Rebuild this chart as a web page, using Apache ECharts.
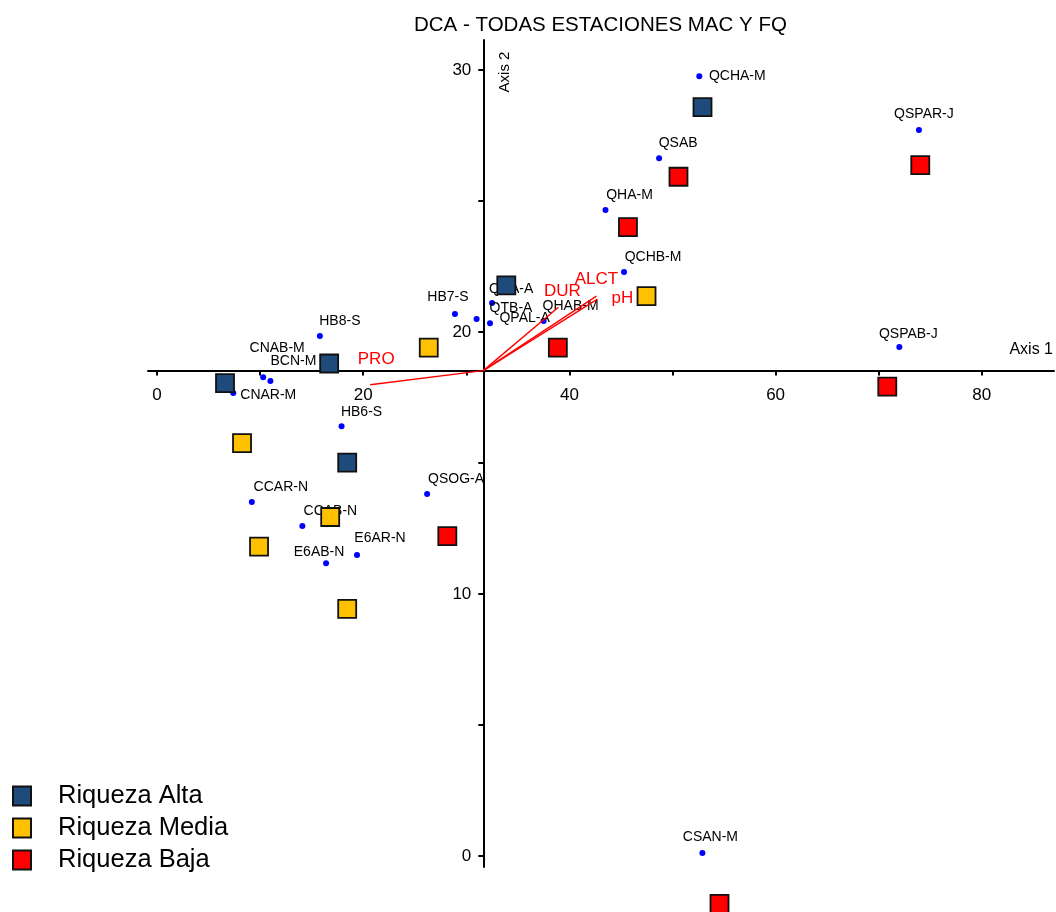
<!DOCTYPE html>
<html>
<head>
<meta charset="utf-8">
<title>DCA - TODAS ESTACIONES MAC Y FQ</title>
<script src="https://cdn.jsdelivr.net/npm/echarts@6/dist/echarts.min.js"></script>
<style>
html, body { margin: 0; padding: 0; background: #fff; }
#chart { width: 1056px; height: 912px; }
</style>
</head>
<body>
<div id="chart"></div>
<script>
// estaciones (puntos azules)
var siteNames = ['QCHA-M', 'QSPAR-J', 'QSAB', 'QHA-M', 'QCHB-M', 'QHA-A', 'QTB-A', 'QPAL-A', 'QHAB-M', 'HB7-S',
    'HB8-S', 'CNAB-M', 'BCN-M', 'CNAR-M', 'QSPAB-J', 'HB6-S', 'CCAR-N', 'CCAB-N', 'QSOG-A', 'E6AR-N', 'E6AB-N', 'CSAN-M'];
var siteX = [52.6, 73.9, 48.7, 43.5, 45.3, 32.5, 32.3, 31.0, 37.5, 28.9,
    15.8, 10.3, 11.0, 7.4, 72.0, 17.9, 9.2, 14.1, 26.2, 19.4, 16.4, 52.9];
var siteY = [29.77, 27.71, 26.64, 24.66, 22.29, 21.11, 20.34, 20.50, 20.42, 20.69,
    19.85, 18.28, 18.13, 17.67, 19.43, 16.41, 13.51, 12.60, 13.82, 11.49, 11.18, 0.11];

// riqueza
var altaX = [52.91, 33.88, 16.70, 6.60, 18.45];
var altaY = [28.59, 21.78, 18.80, 18.05, 15.02];
var mediaX = [47.48, 26.36, 8.25, 16.80, 9.90, 18.45];
var mediaY = [21.37, 19.41, 15.76, 12.94, 11.81, 9.43];
var bajaX = [74.03, 50.58, 45.68, 38.88, 70.83, 28.16, 54.56];
var bajaY = [26.37, 25.93, 24.01, 19.41, 17.92, 12.21, -1.83];

// vectores ambientales
var vecNames = ['PRO', 'DUR', 'ALCT', 'pH'];
var vecX = [20.68, 38.93, 42.62, 42.72];
var vecY = [17.99, 20.95, 21.37, 21.26];
var originX = 31.65;
var originY = 18.53;

// ejes
var xTicks = [0, 10, 20, 30, 40, 50, 60, 70, 80];
var xLabels = [0, 20, 40, 60, 80];
var yTicks = [0, 5, 10, 15, 20, 25, 30];
var yLabels = [0, 10, 20, 30];

// desplazamiento de etiquetas (estilo)
var labelShift = {
    'QCHA-M': [38, 15], 'QSPAR-J': [5, -1], 'QSAB': [19, 0], 'QHA-M': [24, 0], 'QCHB-M': [29, 0],
    'QHA-A': [19, 1], 'QTB-A': [21, 0], 'QPAL-A': [48, 14], 'QHAB-M': [27, 0], 'HB7-S': [-7, -2],
    'HB8-S': [20, 0], 'CNAB-M': [14, -14], 'BCN-M': [23, -5], 'CNAR-M': [35, 17], 'QSPAB-J': [9, 2],
    'HB6-S': [20, 1], 'CCAR-N': [29, 0], 'CCAB-N': [28, 0], 'QSOG-A': [29, 0], 'E6AR-N': [23, -2],
    'E6AB-N': [-7, 4], 'CSAN-M': [8, -1]
};
var vecShift = { 'PRO': [6, -17], 'DUR': [4, -7], 'ALCT': [0, -8], 'pH': [25, 8] };

var font = "'Liberation Sans', Arial, sans-serif";
var gridLeft = 148, gridTop = 40, gridWidth = 906, gridHeight = 827;

function pairs(xs, ys) {
    return xs.map(function(x, i) { return [x, ys[i]]; });
}

function squares(name, color, xs, ys) {
    return {
        name: name,
        type: 'scatter',
        symbol: 'rect',
        symbolSize: 18,
        clip: false,
        z: 5,
        itemStyle: { color: color, borderColor: '#111', borderWidth: 1.8, opacity: 1 },
        data: pairs(xs, ys)
    };
}

var siteData = siteNames.map(function(n, i) {
    var s = labelShift[n] || [0, 0];
    return { name: n, value: [siteX[i], siteY[i]], label: { offset: s } };
});

var vecSeries = vecNames.map(function(n, i) {
    return {
        name: n,
        type: 'line',
        z: 4,
        symbol: 'circle',
        symbolSize: 0,
        showSymbol: true,
        silent: true,
        lineStyle: { color: '#ff0000', width: 1.4 },
        itemStyle: { color: '#ff0000' },
        data: [
            { value: [originX, originY], label: { show: false } },
            { value: [vecX[i], vecY[i]], label: {
                show: true, position: 'top', distance: 0, offset: vecShift[n],
                formatter: n, color: '#ff0000', fontSize: 17, fontFamily: font
            } }
        ]
    };
});

var option = {
    animation: false,
    title: {
        text: 'DCA - TODAS ESTACIONES MAC Y FQ',
        left: 409,
        top: 10,
        textStyle: { fontSize: 20.5, fontWeight: 'normal', color: '#000', fontFamily: font }
    },
    legend: {
        data: ['Riqueza Alta', 'Riqueza Media', 'Riqueza Baja'],
        orient: 'vertical',
        left: 12,
        top: 783,
        padding: 0,
        icon: 'rect',
        itemWidth: 18,
        itemHeight: 19,
        itemGap: 6,
        textStyle: { fontSize: 25.5, color: '#000', fontFamily: font, padding: [0, 0, 0, 22] }
    },
    grid: {
        left: gridLeft, top: gridTop, width: gridWidth, height: gridHeight,
        containLabel: false, outerBoundsMode: 'none'
    },
    xAxis: {
        type: 'value',
        min: -0.87,
        max: 87.0,
        axisLine: { onZero: false, lineStyle: { color: '#000', width: 2 } },
        axisTick: { show: true, length: 5, customValues: xTicks, lineStyle: { color: '#000', width: 2 } },
        axisLabel: { customValues: xLabels, margin: 16, fontSize: 17, color: '#000', fontFamily: font },
        splitLine: { show: false }
    },
    yAxis: {
        type: 'value',
        min: -0.42,
        max: 31.15,
        axisLine: { onZero: false, lineStyle: { color: '#000', width: 2 } },
        axisTick: { show: true, length: 5, customValues: yTicks, lineStyle: { color: '#000', width: 2 } },
        axisLabel: { customValues: yLabels, margin: 12, fontSize: 17, color: '#000', fontFamily: font },
        splitLine: { show: false }
    },
    graphic: [
        { type: 'text', right: 3, top: 342, style: { text: 'Axis 1', fill: '#000', font: '16px ' + font } },
        { type: 'text', x: 505, y: 72, rotation: Math.PI / 2,
          style: { text: 'Axis 2', fill: '#000', font: '15px ' + font, align: 'center', verticalAlign: 'middle' } }
    ],
    series: [{
        name: 'Estaciones',
        type: 'scatter',
        symbolSize: 6,
        z: 3,
        itemStyle: { color: '#0000ff', opacity: 1 },
        label: {
            show: true, position: 'top', distance: 5, formatter: '{b}',
            fontSize: 14, color: '#000', opacity: 1, fontFamily: font
        },
        data: siteData
    }].concat(vecSeries).concat([
        squares('Riqueza Alta', '#1f4a7c', altaX, altaY),
        squares('Riqueza Media', '#ffc000', mediaX, mediaY),
        squares('Riqueza Baja', '#ff0000', bajaX, bajaY)
    ])
};

var myChart = echarts.init(document.getElementById('chart'));
myChart.setOption(option);

// llevar los ejes al punto de cruce
var cross = myChart.convertToPixel({ gridIndex: 0 }, [originX, originY]);
myChart.setOption({
    xAxis: { offset: cross[1] - (gridTop + gridHeight) },
    yAxis: { offset: gridLeft - cross[0] }
});
</script>
</body>
</html>
